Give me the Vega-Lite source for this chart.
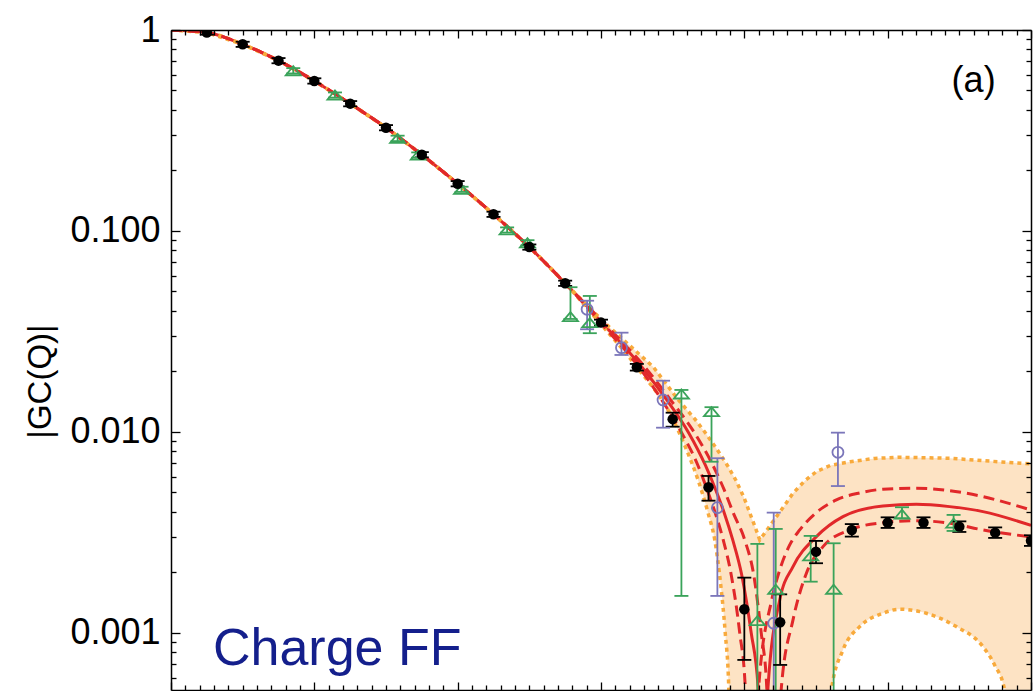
{
  "$schema": "https://vega.github.io/schema/vega-lite/v6.json",
  "width": 860,
  "height": 660,
  "autosize": {"type": "none"},
  "padding": {"left": 171, "top": 30, "right": 3, "bottom": 1},
  "background": "white",
  "config": {
    "view": {"stroke": null},
    "axis": {"domainColor": "black", "tickColor": "black", "domainWidth": 1.5, "tickWidth": 1.3, "grid": false, "zindex": 1, "labelFont": "Liberation Sans", "titleFont": "Liberation Sans", "labelColor": "black", "titleColor": "black"}
  },
  "datasets": {
    "central": [
      {"Q":0,"v":1},{"Q":0.25,"v":0.972},{"Q":0.5,"v":0.849},{"Q":0.75,"v":0.704},{"Q":1,"v":0.558},{"Q":1.25,"v":0.43},{"Q":1.5,"v":0.3266},{"Q":1.75,"v":0.2396},{"Q":2,"v":0.1719},{"Q":2.25,"v":0.1211},{"Q":2.5,"v":0.0832},{"Q":2.75,"v":0.0549},
      {"Q":3.009,"v":0.03485},{"Q":3.2845,"v":0.02106},{"Q":3.4589,"v":0.01443},{"Q":3.6123,"v":0.00989},{"Q":3.7274,"v":0.006851},{"Q":3.8006,"v":0.005145},{"Q":3.8599,"v":0.003954},{"Q":3.9191,"v":0.002902},{"Q":3.9819,"v":0.001943},{"Q":4.0481,"v":0.001},{"Q":4.0955,"v":0.000539},{"Q":4.1283,"v":0.00001},{"Q":4.1653,"v":0.000539},{"Q":4.2469,"v":0.001459},{"Q":4.3396,"v":0.002137},{"Q":4.5028,"v":0.003013},{"Q":4.6883,"v":0.00379},{"Q":4.9672,"v":0.004285},{"Q":5.2001,"v":0.004368},{"Q":5.4324,"v":0.00425},{"Q":5.6646,"v":0.004013},{"Q":6,"v":0.003427}
    ],
    "dashed": [
      {"curve":"A","Q":0,"v":1},{"curve":"A","Q":0.25,"v":0.972},{"curve":"A","Q":0.5,"v":0.849},{"curve":"A","Q":0.75,"v":0.704},{"curve":"A","Q":1,"v":0.558},{"curve":"A","Q":1.25,"v":0.43},{"curve":"A","Q":1.5,"v":0.3266},{"curve":"A","Q":1.75,"v":0.2396},{"curve":"A","Q":2,"v":0.1719},{"curve":"A","Q":2.25,"v":0.1211},{"curve":"A","Q":2.5,"v":0.0832},{"curve":"A","Q":2.75,"v":0.0549},
      {"curve":"A","Q":2.9986,"v":0.03485},{"curve":"A","Q":3.2636,"v":0.02106},{"curve":"A","Q":3.424,"v":0.01443},{"curve":"A","Q":3.5635,"v":0.00989},{"curve":"A","Q":3.675,"v":0.006851},{"curve":"A","Q":3.7413,"v":0.005145},{"curve":"A","Q":3.7971,"v":0.003954},{"curve":"A","Q":3.8529,"v":0.002902},{"curve":"A","Q":3.9086,"v":0.001943},{"curve":"A","Q":3.9679,"v":0.001},{"curve":"A","Q":4.0063,"v":0.000539},{"curve":"A","Q":4.0516,"v":0.00001},{"curve":"A","Q":4.1004,"v":0.000539},{"curve":"A","Q":4.1911,"v":0.00146},{"curve":"A","Q":4.2469,"v":0.002058},{"curve":"A","Q":4.3166,"v":0.002741},{"curve":"A","Q":4.3863,"v":0.003254},{"curve":"A","Q":4.4909,"v":0.003908},{"curve":"A","Q":4.6423,"v":0.004589},{"curve":"A","Q":4.8047,"v":0.004971},{"curve":"A","Q":4.9672,"v":0.005187},{"curve":"A","Q":5.2001,"v":0.005247},{"curve":"A","Q":5.5488,"v":0.004955},{"curve":"A","Q":6,"v":0.00409},
      {"curve":"B","Q":0,"v":1},{"curve":"B","Q":0.25,"v":0.972},{"curve":"B","Q":0.5,"v":0.849},{"curve":"B","Q":0.75,"v":0.704},{"curve":"B","Q":1,"v":0.558},{"curve":"B","Q":1.25,"v":0.43},{"curve":"B","Q":1.5,"v":0.3266},{"curve":"B","Q":1.75,"v":0.2396},{"curve":"B","Q":2,"v":0.1719},{"curve":"B","Q":2.25,"v":0.1211},{"curve":"B","Q":2.5,"v":0.0832},{"curve":"B","Q":2.75,"v":0.0549},
      {"curve":"B","Q":3.0195,"v":0.03485},{"curve":"B","Q":3.3054,"v":0.02106},{"curve":"B","Q":3.4854,"v":0.01443},{"curve":"B","Q":3.6527,"v":0.00989},{"curve":"B","Q":3.7796,"v":0.006851},{"curve":"B","Q":3.8598,"v":0.005145},{"curve":"B","Q":3.9226,"v":0.003954},{"curve":"B","Q":4.0028,"v":0.002902},{"curve":"B","Q":4.0656,"v":0.001943},{"curve":"B","Q":4.1179,"v":0.001},{"curve":"B","Q":4.1562,"v":0.000539},{"curve":"B","Q":4.1981,"v":0.00001},{"curve":"B","Q":4.2587,"v":0.000539},{"curve":"B","Q":4.3396,"v":0.001161},{"curve":"B","Q":4.4331,"v":0.001982},{"curve":"B","Q":4.5488,"v":0.002688},{"curve":"B","Q":4.735,"v":0.003254},{"curve":"B","Q":4.9672,"v":0.003538},{"curve":"B","Q":5.2001,"v":0.00362},{"curve":"B","Q":5.4324,"v":0.003514},{"curve":"B","Q":5.6646,"v":0.003254},{"curve":"B","Q":6,"v":0.003003}
    ],
    "upper": [
      {"Q":0,"v":1},{"Q":0.25,"v":0.972},{"Q":0.5,"v":0.849},{"Q":0.75,"v":0.704},{"Q":1,"v":0.558},{"Q":1.25,"v":0.43},{"Q":1.5,"v":0.3266},{"Q":1.75,"v":0.2396},{"Q":2,"v":0.1719},{"Q":2.25,"v":0.1211},{"Q":2.5,"v":0.0832},{"Q":2.75,"v":0.0549},
      {"Q":3.0265,"v":0.03485},{"Q":3.3647,"v":0.02106},{"Q":3.5398,"v":0.01443},{"Q":3.6541,"v":0.01161},{"Q":3.7239,"v":0.01},{"Q":3.8075,"v":0.008231},{"Q":3.8842,"v":0.006773},{"Q":3.94,"v":0.00577},{"Q":3.9958,"v":0.004748},{"Q":4.0377,"v":0.003954},{"Q":4.0725,"v":0.003405},{"Q":4.1074,"v":0.002902},{"Q":4.1632,"v":0.003292},{"Q":4.2239,"v":0.00379},{"Q":4.2824,"v":0.004333},{"Q":4.3396,"v":0.004955},{"Q":4.4212,"v":0.005705},{"Q":4.5028,"v":0.006345},{"Q":4.599,"v":0.006813},{"Q":4.7385,"v":0.007115},{"Q":4.9093,"v":0.007382},{"Q":5.0837,"v":0.007482},{"Q":5.4324,"v":0.007398},{"Q":5.6646,"v":0.007197},{"Q":6,"v":0.006931}
    ],
    "lower": [
      {"Q":0,"v":1},{"Q":0.25,"v":0.972},{"Q":0.5,"v":0.849},{"Q":0.75,"v":0.704},{"Q":1,"v":0.558},{"Q":1.25,"v":0.43},{"Q":1.5,"v":0.3266},{"Q":1.75,"v":0.2396},{"Q":2,"v":0.1719},{"Q":2.25,"v":0.1211},{"Q":2.5,"v":0.0832},{"Q":2.75,"v":0.0549},
      {"Q":2.9916,"v":0.03485},{"Q":3.2497,"v":0.02106},{"Q":3.5007,"v":0.01161},{"Q":3.5913,"v":0.008326},{"Q":3.6771,"v":0.00577},{"Q":3.7469,"v":0.003954},{"Q":3.7936,"v":0.002902},{"Q":3.8354,"v":0.001733},{"Q":3.8668,"v":0.001},{"Q":3.8912,"v":0.000539},{"Q":3.9121,"v":0.00001},{"Q":4.5816,"v":0.00001},{"Q":4.6074,"v":0.00052},{"Q":4.6883,"v":0.000823},{"Q":4.8047,"v":0.001075},{"Q":4.9672,"v":0.001253},{"Q":5.0837,"v":0.001312},{"Q":5.2699,"v":0.001253},{"Q":5.4791,"v":0.001075},{"Q":5.6646,"v":0.000855},{"Q":5.7462,"v":0.000693},{"Q":5.8159,"v":0.00052},{"Q":5.8438,"v":0.00001},{"Q":6,"v":0.00001}
    ],
    "points": [
      {"set":"black","Q":0.25,"v":0.972,"lo":0.948,"hi":0.996},
      {"set":"black","Q":0.5,"v":0.849,"lo":0.824,"hi":0.874},
      {"set":"black","Q":0.75,"v":0.704,"lo":0.683,"hi":0.725},
      {"set":"black","Q":1,"v":0.558,"lo":0.541,"hi":0.575},
      {"set":"black","Q":1.25,"v":0.43,"lo":0.417,"hi":0.443},
      {"set":"black","Q":1.5,"v":0.3266,"lo":0.3168,"hi":0.3364},
      {"set":"black","Q":1.75,"v":0.2396,"lo":0.2324,"hi":0.2468},
      {"set":"black","Q":2,"v":0.1719,"lo":0.1667,"hi":0.1771},
      {"set":"black","Q":2.25,"v":0.1211,"lo":0.1175,"hi":0.1247},
      {"set":"black","Q":2.5,"v":0.0832,"lo":0.0807,"hi":0.0857},
      {"set":"black","Q":2.75,"v":0.0549,"lo":0.0533,"hi":0.0566},
      {"set":"black","Q":3,"v":0.035,"lo":0.0338,"hi":0.0362},
      {"set":"black","Q":3.25,"v":0.021,"lo":0.0202,"hi":0.0218},
      {"set":"black","Q":3.5,"v":0.01158,"lo":0.01062,"hi":0.01247},
      {"set":"black","Q":3.75,"v":0.00531,"lo":0.00455,"hi":0.00604},
      {"set":"black","Q":4,"v":0.001312,"lo":0.000734,"hi":0.001884},
      {"set":"black","Q":4.25,"v":0.00113,"lo":0.000693,"hi":0.001556},
      {"set":"black","Q":4.5,"v":0.002537,"lo":0.002222,"hi":0.00287},
      {"set":"black","Q":4.75,"v":0.00325,"lo":0.003015,"hi":0.00348},
      {"set":"black","Q":5,"v":0.00354,"lo":0.00333,"hi":0.00376},
      {"set":"black","Q":5.25,"v":0.00354,"lo":0.00333,"hi":0.00376},
      {"set":"black","Q":5.5,"v":0.00338,"lo":0.00318,"hi":0.00359},
      {"set":"black","Q":5.75,"v":0.003155,"lo":0.00297,"hi":0.00335},
      {"set":"black","Q":6,"v":0.002877,"lo":0.00271,"hi":0.00306},
      {"set":"green","Q":0.853,"v":0.627,"lo":0.608,"hi":0.646},
      {"set":"green","Q":1.144,"v":0.475,"lo":0.461,"hi":0.489},
      {"set":"green","Q":1.581,"v":0.289,"lo":0.28,"hi":0.298},
      {"set":"green","Q":1.725,"v":0.2388,"lo":0.2316,"hi":0.246},
      {"set":"green","Q":2.027,"v":0.1612,"lo":0.1564,"hi":0.166},
      {"set":"green","Q":2.345,"v":0.1012,"lo":0.0982,"hi":0.1042},
      {"set":"green","Q":2.487,"v":0.0874,"lo":0.0848,"hi":0.09},
      {"set":"green","Q":2.787,"v":0.03747,"lo":0.0365,"hi":0.0525},
      {"set":"green","Q":2.922,"v":0.035,"lo":0.031,"hi":0.0475},
      {"set":"green","Q":3.561,"v":0.01545,"lo":0.001528,"hi":0.01618},
      {"set":"green","Q":3.771,"v":0.01262,"lo":0.00711,"hi":0.01328},
      {"set":"green","Q":4.091,"v":0.001151,"lo":0.00001,"hi":0.002773},
      {"set":"green","Q":4.219,"v":0.001649,"lo":0.00001,"hi":0.003292},
      {"set":"green","Q":4.463,"v":0.002417,"lo":0.001799,"hi":0.003039},
      {"set":"green","Q":4.623,"v":0.001649,"lo":0.00001,"hi":0.002793},
      {"set":"green","Q":5.1,"v":0.003896,"lo":0.003722,"hi":0.00422},
      {"set":"green","Q":5.46,"v":0.003515,"lo":0.003217,"hi":0.003865},
      {"set":"purple","Q":2.903,"v":0.04077,"lo":0.03243,"hi":0.04498},
      {"set":"purple","Q":3.143,"v":0.02627,"lo":0.02416,"hi":0.03119},
      {"set":"purple","Q":3.433,"v":0.01443,"lo":0.0105,"hi":0.01799},
      {"set":"purple","Q":3.812,"v":0.0042,"lo":0.001528,"hi":0.0074},
      {"set":"purple","Q":4.205,"v":0.001117,"lo":0.00001,"hi":0.003968},
      {"set":"purple","Q":4.653,"v":0.00792,"lo":0.00538,"hi":0.00992}
    ]
  },
  "layer": [
    {
      "data": {"name": "upper"},
      "mark": {"type": "area", "fill": "#fde3c4", "opacity": 1, "clip": true, "interpolate": "linear"},
      "encoding": {
        "x": {"field": "Q", "type": "quantitative", "scale": {"domain": [0, 6], "nice": false, "zero": false},
          "axis": {"orient": "bottom", "zindex": 2, "values": [0,0.1,0.2,0.3,0.4,0.5,0.6,0.7,0.8,0.9,1,1.1,1.2,1.3,1.4,1.5,1.6,1.7,1.8,1.9,2,2.1,2.2,2.3,2.4,2.5,2.6,2.7,2.8,2.9,3,3.1,3.2,3.3,3.4,3.5,3.6,3.7,3.8,3.9,4,4.1,4.2,4.3,4.4,4.5,4.6,4.7,4.8,4.9,5,5.1,5.2,5.3,5.4,5.5,5.6,5.7,5.8,5.9,6],
            "labels": false, "title": null,
            "tickSize": {"condition": {"test": "datum.value % 1 == 0", "value": -8}, "value": -5}}},
        "y": {"field": "v", "type": "quantitative", "scale": {"type": "log", "domain": [0.00052, 1], "nice": false},
          "axis": {"orient": "left", "zindex": 2, "values": [0.0006,0.0007,0.0008,0.0009,0.001,0.002,0.003,0.004,0.005,0.006,0.007,0.008,0.009,0.01,0.02,0.03,0.04,0.05,0.06,0.07,0.08,0.09,0.1,0.2,0.3,0.4,0.5,0.6,0.7,0.8,0.9,1],
            "labelExpr": "indexof([0.001,0.01,0.1], datum.value) >= 0 ? format(datum.value, '.3f') : (datum.value == 1 ? '1' : '')",
            "labelFontSize": 36, "labelPadding": 20, "labelFlush": false, "labelOverlap": false, "labelBound": false,
            "tickSize": {"condition": {"test": "indexof([0.001,0.01,0.1,1], datum.value) >= 0", "value": -9}, "value": -5},
            "title": "|GC(Q)|", "titleFontSize": 33, "titleFontWeight": "normal", "titleX": -114, "titleY": 351, "titleAngle": 270, "titleBaseline": "bottom", "titleAlign": "center"}},
        "y2": {"datum": 0.00001}
      }
    },
    {
      "data": {"name": "lower"},
      "mark": {"type": "area", "fill": "white", "opacity": 1, "clip": true, "interpolate": "monotone"},
      "encoding": {
        "x": {"field": "Q", "type": "quantitative", "scale": {"domain": [0, 6], "nice": false, "zero": false},
          "axis": {"orient": "top", "zindex": 2, "values": [0,0.1,0.2,0.3,0.4,0.5,0.6,0.7,0.8,0.9,1,1.1,1.2,1.3,1.4,1.5,1.6,1.7,1.8,1.9,2,2.1,2.2,2.3,2.4,2.5,2.6,2.7,2.8,2.9,3,3.1,3.2,3.3,3.4,3.5,3.6,3.7,3.8,3.9,4,4.1,4.2,4.3,4.4,4.5,4.6,4.7,4.8,4.9,5,5.1,5.2,5.3,5.4,5.5,5.6,5.7,5.8,5.9,6],
            "labels": false, "title": null,
            "tickSize": {"condition": {"test": "datum.value % 1 == 0", "value": -8}, "value": -5}}},
        "y": {"field": "v", "type": "quantitative", "scale": {"type": "log", "domain": [0.00052, 1], "nice": false},
          "axis": {"orient": "right", "zindex": 2, "values": [0.0006,0.0007,0.0008,0.0009,0.001,0.002,0.003,0.004,0.005,0.006,0.007,0.008,0.009,0.01,0.02,0.03,0.04,0.05,0.06,0.07,0.08,0.09,0.1,0.2,0.3,0.4,0.5,0.6,0.7,0.8,0.9,1],
            "labels": false, "title": null,
            "tickSize": {"condition": {"test": "indexof([0.001,0.01,0.1,1], datum.value) >= 0", "value": -9}, "value": -5}}},
        "y2": {"datum": 0.00001}
      }
    },
    {
      "data": {"name": "central"},
      "mark": {"type": "line", "color": "#e1282a", "strokeWidth": 3, "interpolate": "monotone", "clip": true},
      "encoding": {
        "x": {"field": "Q", "type": "quantitative", "scale": {"domain": [0, 6], "nice": false, "zero": false}, "axis": null},
        "y": {"field": "v", "type": "quantitative", "scale": {"type": "log", "domain": [0.00052, 1], "nice": false}, "axis": null}
      }
    },
    {
      "data": {"name": "upper"},
      "mark": {"type": "line", "color": "#f8aa3c", "strokeWidth": 3.5, "strokeDash": [4, 4], "interpolate": "linear", "clip": true},
      "encoding": {
        "x": {"field": "Q", "type": "quantitative", "scale": {"domain": [0, 6], "nice": false, "zero": false}, "axis": null},
        "y": {"field": "v", "type": "quantitative", "scale": {"type": "log", "domain": [0.00052, 1], "nice": false}, "axis": null}
      }
    },
    {
      "data": {"name": "lower"},
      "mark": {"type": "line", "color": "#f8aa3c", "strokeWidth": 3.5, "strokeDash": [4, 4], "interpolate": "monotone", "clip": true},
      "encoding": {
        "x": {"field": "Q", "type": "quantitative", "scale": {"domain": [0, 6], "nice": false, "zero": false}, "axis": null},
        "y": {"field": "v", "type": "quantitative", "scale": {"type": "log", "domain": [0.00052, 1], "nice": false}, "axis": null}
      }
    },
    {
      "data": {"name": "dashed"},
      "mark": {"type": "line", "color": "#e1282a", "strokeWidth": 3, "strokeDash": [11, 6], "interpolate": "monotone", "clip": true},
      "encoding": {
        "x": {"field": "Q", "type": "quantitative", "scale": {"domain": [0, 6], "nice": false, "zero": false}, "axis": null},
        "y": {"field": "v", "type": "quantitative", "scale": {"type": "log", "domain": [0.00052, 1], "nice": false}, "axis": null},
        "detail": {"field": "curve", "type": "nominal"}
      }
    },
    {
      "data": {"name": "points"},
      "mark": {"type": "rule", "strokeWidth": 1.8, "clip": true},
      "encoding": {
        "x": {"field": "Q", "type": "quantitative", "scale": {"domain": [0, 6], "nice": false, "zero": false}, "axis": null},
        "y": {"field": "lo", "type": "quantitative", "scale": {"type": "log", "domain": [0.00052, 1], "nice": false}, "axis": null},
        "y2": {"field": "hi"},
        "color": {"field": "set", "type": "nominal", "scale": {"domain": ["black", "green", "purple"], "range": ["#000000", "#3aa35a", "#7b76ba"]}, "legend": null}
      }
    },
    {
      "data": {"name": "points"},
      "mark": {"type": "point", "shape": "M-1,0L1,0", "size": 196, "strokeWidth": 1.8, "filled": false, "opacity": 1, "clip": true},
      "encoding": {
        "x": {"field": "Q", "type": "quantitative", "scale": {"domain": [0, 6], "nice": false, "zero": false}, "axis": null},
        "y": {"field": "lo", "type": "quantitative", "scale": {"type": "log", "domain": [0.00052, 1], "nice": false}, "axis": null},
        "color": {"field": "set", "type": "nominal", "scale": {"domain": ["black", "green", "purple"], "range": ["#000000", "#3aa35a", "#7b76ba"]}, "legend": null}
      }
    },
    {
      "data": {"name": "points"},
      "mark": {"type": "point", "shape": "M-1,0L1,0", "size": 196, "strokeWidth": 1.8, "filled": false, "opacity": 1, "clip": true},
      "encoding": {
        "x": {"field": "Q", "type": "quantitative", "scale": {"domain": [0, 6], "nice": false, "zero": false}, "axis": null},
        "y": {"field": "hi", "type": "quantitative", "scale": {"type": "log", "domain": [0.00052, 1], "nice": false}, "axis": null},
        "color": {"field": "set", "type": "nominal", "scale": {"domain": ["black", "green", "purple"], "range": ["#000000", "#3aa35a", "#7b76ba"]}, "legend": null}
      }
    },
    {
      "data": {"name": "points"},
      "transform": [{"filter": "datum.set == 'green'"}],
      "mark": {"type": "point", "shape": "M-1,0.6L0,-0.6L1,0.6Z", "size": 225, "strokeWidth": 1.8, "filled": false, "color": "#3aa35a", "opacity": 1, "clip": true},
      "encoding": {
        "x": {"field": "Q", "type": "quantitative", "scale": {"domain": [0, 6], "nice": false, "zero": false}, "axis": null},
        "y": {"field": "v", "type": "quantitative", "scale": {"type": "log", "domain": [0.00052, 1], "nice": false}, "axis": null}
      }
    },
    {
      "data": {"name": "points"},
      "transform": [{"filter": "datum.set == 'purple'"}],
      "mark": {"type": "point", "shape": "circle", "size": 121, "strokeWidth": 1.8, "filled": false, "color": "#7b76ba", "opacity": 1, "clip": true},
      "encoding": {
        "x": {"field": "Q", "type": "quantitative", "scale": {"domain": [0, 6], "nice": false, "zero": false}, "axis": null},
        "y": {"field": "v", "type": "quantitative", "scale": {"type": "log", "domain": [0.00052, 1], "nice": false}, "axis": null}
      }
    },
    {
      "data": {"name": "points"},
      "transform": [{"filter": "datum.set == 'black'"}],
      "mark": {"type": "point", "shape": "circle", "size": 110, "filled": true, "color": "#000000", "opacity": 1, "clip": true},
      "encoding": {
        "x": {"field": "Q", "type": "quantitative", "scale": {"domain": [0, 6], "nice": false, "zero": false}, "axis": null},
        "y": {"field": "v", "type": "quantitative", "scale": {"type": "log", "domain": [0.00052, 1], "nice": false}, "axis": null}
      }
    },
    {
      "data": {"values": [{}]},
      "mark": {"type": "text", "text": "Charge FF", "font": "Liberation Sans", "fontSize": 52, "color": "#141f8c", "align": "left", "baseline": "alphabetic"},
      "encoding": {
        "x": {"datum": 0.2929, "type": "quantitative", "scale": {"domain": [0, 6], "nice": false, "zero": false}, "axis": null},
        "y": {"datum": 0.000693, "type": "quantitative", "scale": {"type": "log", "domain": [0.00052, 1], "nice": false}, "axis": null}
      }
    },
    {
      "data": {"values": [{}]},
      "mark": {"type": "text", "text": "(a)", "font": "Liberation Sans", "fontSize": 36, "color": "#000000", "align": "center", "baseline": "alphabetic"},
      "encoding": {
        "x": {"datum": 5.5997, "type": "quantitative", "scale": {"domain": [0, 6], "nice": false, "zero": false}, "axis": null},
        "y": {"datum": 0.4887, "type": "quantitative", "scale": {"type": "log", "domain": [0.00052, 1], "nice": false}, "axis": null}
      }
    }
  ],
  "resolve": {"axis": {"x": "independent", "y": "independent"}}
}
